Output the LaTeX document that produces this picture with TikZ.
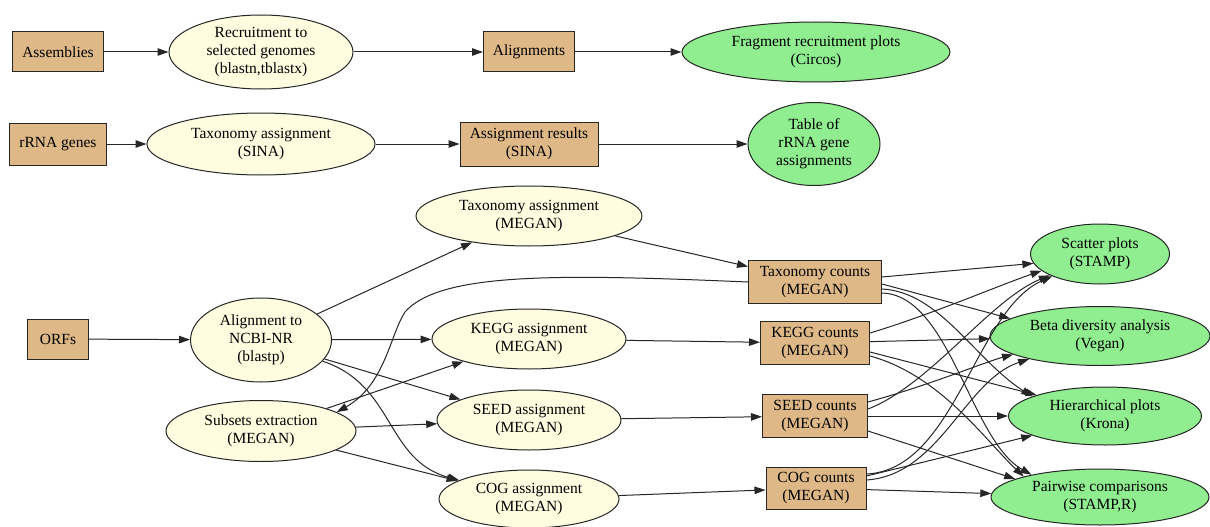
\documentclass[tikz,border=0pt]{standalone}
\usepackage{fontspec}
\setmainfont{Liberation Serif}
\usetikzlibrary{shapes.geometric,arrows.meta}

\definecolor{burly}{HTML}{DEB887}
\definecolor{cream}{HTML}{FFFDE0}
\definecolor{mint}{HTML}{90EE90}

\tikzset{
  lbl/.style={font=\fontsize{15.5}{18}\selectfont, align=center},
  data/.style={lbl, rectangle, draw=black!85, fill=burly, line width=1pt, inner sep=2pt},
  tool/.style={lbl, ellipse, draw=black!85, fill=cream, line width=1pt, inner sep=0pt},
  result/.style={tool, fill=mint},
  flow/.style={-{Triangle[length=11pt,width=7.5pt]}, line width=1pt, draw=black!85}
}

\begin{document}
\begin{tikzpicture}[x=1pt,y=-1pt]
    \useasboundingbox (0,0) rectangle (1210,527);

    % assemblies row
    \node[data, minimum width=91pt, minimum height=40pt] (asm) at (58,52) {Assemblies};
    \node[tool, minimum width=184pt, minimum height=74pt] (recr) at (261,52) {Recruitment to\\selected genomes\\(blastn,tblastx)};
    \node[data, minimum width=91pt, minimum height=40pt] (aln) at (529,52) {Alignments};
    \node[result, minimum width=268pt, minimum height=60pt] (frag) at (816,52) {Fragment recruitment plots\\(Circos)};

    % rRNA row
    \node[data, minimum width=97pt, minimum height=42pt] (rrna) at (58,144) {rRNA genes};
    \node[tool, minimum width=228pt, minimum height=62pt] (taxsina) at (261,144) {Taxonomy assignment\\(SINA)};
    \node[data, minimum width=138pt, minimum height=44pt] (asres) at (529,144) {Assignment results\\(SINA)};
    \node[result, minimum width=132pt, minimum height=83pt] (table) at (814,144) {Table of\\rRNA gene\\assignments};

    % ORFs block
    \node[data, minimum width=61pt, minimum height=40pt] (orfs) at (58,339) {ORFs};
    \node[tool, minimum width=141pt, minimum height=84pt] (ncbi) at (261,340) {Alignment to\\NCBI-NR\\(blastp)};
    \node[tool, minimum width=190pt, minimum height=61pt] (subs) at (261,431) {Subsets extraction\\(MEGAN)};

    \node[tool, minimum width=226pt, minimum height=60pt] (taxm) at (529,216) {Taxonomy assignment\\(MEGAN)};
    \node[tool, minimum width=194pt, minimum height=60pt] (kegg) at (529,339) {KEGG assignment\\(MEGAN)};
    \node[tool, minimum width=184pt, minimum height=60pt] (seed) at (529,420) {SEED assignment\\(MEGAN)};
    \node[tool, minimum width=180pt, minimum height=58pt] (cog) at (529,499) {COG assignment\\(MEGAN)};

    \node[data, minimum width=133pt, minimum height=43pt] (taxc) at (815,282) {Taxonomy counts\\(MEGAN)};
    \node[data, minimum width=109pt, minimum height=43pt] (keggc) at (815,343) {KEGG counts\\(MEGAN)};
    \node[data, minimum width=105pt, minimum height=43pt] (seedc) at (815,416) {SEED counts\\(MEGAN)};
    \node[data, minimum width=100pt, minimum height=42pt] (cogc) at (816,488) {COG counts\\(MEGAN)};

    \node[result, minimum width=139pt, minimum height=60pt] (scat) at (1100,254) {Scatter plots\\(STAMP)};
    \node[result, minimum width=220pt, minimum height=59pt] (beta) at (1100,336) {Beta diversity analysis\\(Vegan)};
    \node[result, minimum width=193pt, minimum height=58pt] (hier) at (1105,416) {Hierarchical plots\\(Krona)};
    \node[result, minimum width=218pt, minimum height=56pt] (pair) at (1100,497) {Pairwise comparisons\\(STAMP,R)};

    % top rows
    \draw[flow] (asm) -- (recr);
    \draw[flow] (recr) -- (aln);
    \draw[flow] (aln) -- (frag);
    \draw[flow] (rrna) -- (taxsina);
    \draw[flow] (taxsina) -- (asres);
    \draw[flow] (asres) -- (table);

    % alignment and assignments
    \draw[flow] (orfs) -- (ncbi);
    \draw[flow] (ncbi) -- (taxm);
    \draw[flow] (ncbi) -- (kegg);
    \draw[flow] (ncbi) -- (seed);
    \draw[flow] (ncbi.-19) .. controls (395,385) and (385,460) .. (cog.165);
    \draw[flow] (subs) -- (kegg);
    \draw[flow] (subs) -- (seed);
    \draw[flow] (subs) -- (cog);
    \draw[flow] (taxc.west) .. controls (560,274) and (440,272) .. (405,312)
        .. controls (390,335) and (385,385) .. (subs.14);

    % counts
    \draw[flow] (taxm) -- (taxc);
    \draw[flow] (kegg) -- (keggc);
    \draw[flow] (seed) -- (seedc);
    \draw[flow] (cog) -- (cogc);

    % counts to outputs
    \draw[flow] ([yshift=5pt]taxc.east) -- (scat.188);
    \draw[flow] ([yshift=-2pt]taxc.east) -- (beta.169);
    \draw[flow] ([yshift=-7pt]taxc.east) .. controls (940,292) and (975,360) .. (hier.165);
    \draw[flow] ([yshift=-11pt]taxc.east) .. controls (950,295) and (970,440) .. (pair.162);

    \draw[flow] ([yshift=10pt]keggc.east) .. controls (930,315) and (1000,285) .. (scat.196);
    \draw[flow] (keggc) -- (beta);
    \draw[flow] ([yshift=-9pt]keggc.east) -- (hier.163);
    \draw[flow] ([yshift=-13pt]keggc.east) .. controls (940,375) and (985,440) .. (pair.165);

    \draw[flow] ([yshift=7pt]seedc.east) .. controls (930,385) and (990,300) .. (scat.203);
    \draw[flow] ([yshift=14pt]seedc.east) .. controls (930,385) and (985,362) .. (beta.192);
    \draw[flow] (seedc) -- (hier);
    \draw[flow] ([yshift=-15pt]seedc.east) -- (pair.168);

    \draw[flow] ([yshift=14pt]cogc.east) .. controls (955,470) and (975,310) .. (scat.205);
    \draw[flow] ([yshift=8pt]cogc.east) .. controls (940,475) and (965,380) .. (beta.198);
    \draw[flow] ([yshift=12pt]cogc.east) -- (hier.195);
    \draw[flow] (cogc) -- (pair);
\end{tikzpicture}
\end{document}
